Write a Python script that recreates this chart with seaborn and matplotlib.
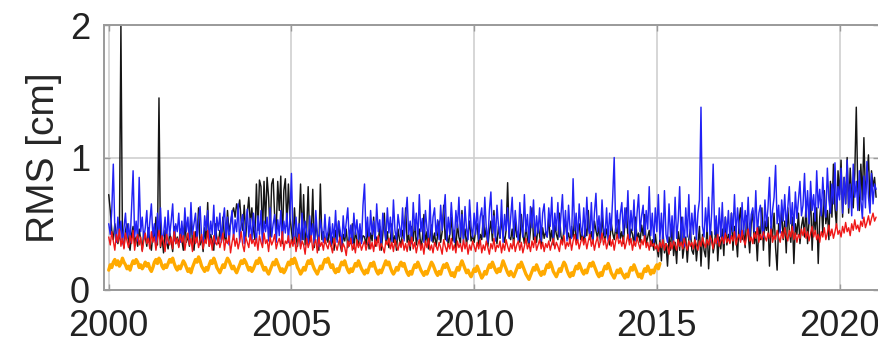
import numpy as np
import pandas as pd
import matplotlib
matplotlib.use("Agg")
import matplotlib.pyplot as plt
import seaborn as sns

# Semi-monthly RMS values [cm], one row per year starting January 2000
rms_black = [
    0.72, 0.60, 0.45, 0.38, 0.50, 0.42, 0.35, 0.40, 2.00, 0.38, 0.32, 0.45, 0.50, 0.36, 0.30, 0.42, 0.48, 0.35, 0.40, 0.33, 0.46, 0.38, 0.30, 0.44,
    0.40, 0.33, 0.47, 0.36, 0.30, 0.42, 0.38, 0.55, 0.34, 1.45, 0.32, 0.40, 0.28, 0.45, 0.36, 0.31, 0.43, 0.37, 0.29, 0.48, 0.35, 0.40, 0.33, 0.46,
    0.38, 0.30, 0.52, 0.36, 0.41, 0.33, 0.58, 0.35, 0.30, 0.44, 0.38, 0.62, 0.34, 0.40, 0.29, 0.47, 0.36, 0.66, 0.33, 0.42, 0.37, 0.30, 0.50, 0.39,
    0.35, 0.45, 0.38, 0.55, 0.40, 0.36, 0.60, 0.44, 0.50, 0.58, 0.62, 0.55, 0.65, 0.60, 0.68, 0.52, 0.45, 0.64, 0.40, 0.58, 0.70, 0.50, 0.62, 0.46,
    0.38, 0.80, 0.45, 0.83, 0.78, 0.42, 0.82, 0.50, 0.85, 0.70, 0.40, 0.80, 0.84, 0.55, 0.45, 0.82, 0.60, 0.86, 0.35, 0.75, 0.84, 0.48, 0.80, 0.55,
    0.45, 0.35, 0.62, 0.40, 0.33, 0.48, 0.80, 0.38, 0.72, 0.34, 0.45, 0.78, 0.36, 0.40, 0.76, 0.32, 0.50, 0.42, 0.30, 0.80, 0.38, 0.44, 0.35, 0.41,
    0.36, 0.48, 0.33, 0.40, 0.30, 0.45, 0.38, 0.52, 0.34, 0.29, 0.42, 0.37, 0.46, 0.32, 0.40, 0.35, 0.50, 0.31, 0.44, 0.38, 0.33, 0.47, 0.36, 0.41,
    0.40, 0.34, 0.47, 0.31, 0.43, 0.37, 0.55, 0.33, 0.40, 0.36, 0.48, 0.30, 0.42, 0.58, 0.35, 0.44, 0.32, 0.39, 0.50, 0.36, 0.41, 0.30, 0.46, 0.38,
    0.33, 0.45, 0.39, 0.62, 0.36, 0.42, 0.30, 0.48, 0.37, 0.53, 0.34, 0.41, 0.46, 0.32, 0.39, 0.57, 0.35, 0.44, 0.31, 0.40, 0.49, 0.36, 0.43, 0.33,
    0.41, 0.52, 0.36, 0.44, 0.64, 0.38, 0.47, 0.33, 0.42, 0.55, 0.37, 0.45, 0.31, 0.50, 0.40, 0.35, 0.60, 0.39, 0.46, 0.34, 0.43, 0.52, 0.37, 0.41,
    0.36, 0.45, 0.50, 0.34, 0.42, 0.38, 0.56, 0.40, 0.47, 0.33, 0.44, 0.52, 0.37, 0.60, 0.41, 0.35, 0.48, 0.39, 0.54, 0.42, 0.36, 0.45, 0.81, 0.40,
    0.38, 0.46, 0.34, 0.52, 0.40, 0.44, 0.36, 0.57, 0.42, 0.35, 0.48, 0.39, 0.33, 0.45, 0.62, 0.38, 0.43, 0.36, 0.50, 0.41, 0.34, 0.47, 0.39, 0.44,
    0.40, 0.55, 0.37, 0.45, 0.34, 0.49, 0.42, 0.38, 0.58, 0.41, 0.36, 0.46, 0.52, 0.39, 0.43, 0.35, 0.48, 0.40, 0.54, 0.37, 0.44, 0.50, 0.38, 0.42,
    0.36, 0.47, 0.41, 0.60, 0.38, 0.44, 0.35, 0.52, 0.45, 0.39, 0.48, 0.36, 0.56, 0.42, 0.37, 0.46, 0.40, 0.34, 0.51, 0.43, 0.38, 0.47, 0.41, 0.53,
    0.39, 0.44, 0.35, 0.50, 0.62, 0.40, 0.37, 0.46, 0.42, 0.34, 0.55, 0.38, 0.43, 0.36, 0.49, 0.41, 0.57, 0.35, 0.40, 0.45, 0.33, 0.38, 0.30, 0.42,
    0.32, 0.25, 0.38, 0.22, 0.45, 0.28, 0.35, 0.18, 0.40, 0.30, 0.52, 0.26, 0.36, 0.20, 0.44, 0.30, 0.55, 0.24, 0.33, 0.40, 0.21, 0.38, 0.46, 0.30,
    0.27, 0.40, 0.22, 0.35, 0.48, 0.18, 0.42, 0.30, 0.25, 0.50, 0.16, 0.38, 0.44, 0.28, 0.35, 0.52, 0.22, 0.40, 0.31, 0.46, 0.26, 0.55, 0.34, 0.42,
    0.36, 0.58, 0.30, 0.48, 0.40, 0.25, 0.52, 0.62, 0.38, 0.45, 0.32, 0.56, 0.42, 0.28, 0.50, 0.60, 0.35, 0.44, 0.22, 0.48, 0.38, 0.62, 0.30, 0.52,
    0.45, 0.55, 0.18, 0.48, 0.40, 0.58, 0.32, 0.15, 0.50, 0.44, 0.60, 0.38, 0.52, 0.28, 0.62, 0.45, 0.36, 0.55, 0.20, 0.50, 0.42, 0.58, 0.35, 0.48,
    0.55, 0.40, 0.65, 0.35, 0.52, 0.70, 0.30, 0.58, 0.45, 0.62, 0.20, 0.55, 0.68, 0.42, 0.75, 0.50, 0.60, 0.38, 0.82, 0.55, 0.95, 0.62, 0.48, 0.90,
    0.72, 0.98, 0.55, 0.85, 0.65, 1.00, 0.58, 0.92, 0.70, 0.62, 0.88, 1.38, 0.75, 0.60, 0.95, 0.68, 1.15, 0.72, 0.85, 1.02, 0.65, 0.90, 0.78, 0.85,
    0.70,
]

rms_blue = [
    0.50, 0.42, 0.60, 0.95, 0.45, 0.36, 0.55, 0.40, 0.52, 0.35, 0.47, 0.58, 0.39, 0.50, 0.36, 0.62, 0.90, 0.40, 0.52, 0.37, 0.85, 0.44, 0.55, 0.38,
    0.47, 0.60, 0.36, 0.52, 0.65, 0.40, 0.50, 0.34, 0.58, 0.44, 0.62, 0.38, 0.42, 0.55, 0.35, 0.60, 0.41, 0.52, 0.65, 0.37, 0.50, 0.44, 0.58, 0.36,
    0.52, 0.38, 0.62, 0.44, 0.55, 0.35, 0.66, 0.42, 0.50, 0.58, 0.36, 0.53, 0.63, 0.40, 0.34, 0.56, 0.45, 0.60, 0.37, 0.52, 0.42, 0.64, 0.35, 0.55,
    0.45, 0.58, 0.36, 0.52, 0.62, 0.40, 0.55, 0.34, 0.50, 0.60, 0.38, 0.53, 0.44, 0.65, 0.36, 0.51, 0.57, 0.35, 0.49, 0.61, 0.40, 0.54, 0.36, 0.58,
    0.46, 0.36, 0.56, 0.42, 0.60, 0.35, 0.52, 0.44, 0.55, 0.37, 0.62, 0.40, 0.50, 0.57, 0.36, 0.53, 0.41, 0.60, 0.38, 0.52, 0.43, 0.58, 0.36, 0.55,
    0.88, 0.42, 0.35, 0.55, 0.40, 0.50, 0.33, 0.58, 0.38, 0.52, 0.44, 0.34, 0.56, 0.40, 0.50, 0.35, 0.60, 0.42, 0.33, 0.53, 0.45, 0.36, 0.57, 0.38,
    0.44, 0.55, 0.34, 0.50, 0.38, 0.60, 0.36, 0.52, 0.45, 0.33, 0.56, 0.40, 0.51, 0.62, 0.37, 0.49, 0.35, 0.58, 0.42, 0.53, 0.38, 0.50, 0.35, 0.64,
    0.80, 0.40, 0.55, 0.35, 0.60, 0.42, 0.52, 0.36, 0.65, 0.44, 0.53, 0.34, 0.58, 0.46, 0.38, 0.62, 0.43, 0.55, 0.36, 0.68, 0.45, 0.38, 0.57, 0.48,
    0.40, 0.62, 0.37, 0.56, 0.70, 0.42, 0.52, 0.35, 0.66, 0.45, 0.58, 0.38, 0.72, 0.44, 0.54, 0.36, 0.60, 0.47, 0.39, 0.68, 0.37, 0.55, 0.62, 0.41,
    0.53, 0.38, 0.64, 0.45, 0.58, 0.72, 0.37, 0.55, 0.42, 0.66, 0.48, 0.36, 0.60, 0.47, 0.70, 0.40, 0.57, 0.35, 0.63, 0.46, 0.38, 0.68, 0.48, 0.40,
    0.58, 0.42, 0.66, 0.38, 0.55, 0.62, 0.40, 0.70, 0.46, 0.36, 0.60, 0.74, 0.43, 0.56, 0.37, 0.64, 0.48, 0.40, 0.68, 0.36, 0.57, 0.45, 0.62, 0.39,
    0.55, 0.70, 0.40, 0.60, 0.46, 0.37, 0.66, 0.48, 0.40, 0.72, 0.44, 0.57, 0.36, 0.63, 0.47, 0.68, 0.39, 0.56, 0.43, 0.62, 0.37, 0.58, 0.65, 0.44,
    0.40, 0.62, 0.48, 0.70, 0.38, 0.58, 0.45, 0.66, 0.40, 0.56, 0.72, 0.42, 0.60, 0.37, 0.64, 0.46, 0.39, 0.84, 0.45, 0.58, 0.37, 0.65, 0.48, 0.41,
    0.62, 0.40, 0.70, 0.47, 0.41, 0.66, 0.38, 0.58, 0.73, 0.44, 0.56, 0.39, 0.68, 0.47, 0.41, 0.62, 0.37, 0.58, 0.45, 0.70, 1.00, 0.44, 0.60, 0.39,
    0.57, 0.66, 0.42, 0.62, 0.47, 0.75, 0.39, 0.60, 0.45, 0.68, 0.37, 0.58, 0.72, 0.44, 0.56, 0.64, 0.38, 0.60, 0.46, 0.78, 0.41, 0.58, 0.36, 0.62,
    0.44, 0.72, 0.38, 0.58, 0.34, 0.75, 0.42, 0.36, 0.65, 0.40, 0.56, 0.35, 0.70, 0.39, 0.52, 0.78, 0.37, 0.55, 0.33, 0.62, 0.40, 0.72, 0.38, 0.58,
    0.42, 0.64, 0.38, 0.58, 0.68, 1.38, 0.48, 0.40, 0.62, 0.44, 0.70, 0.37, 0.58, 0.95, 0.42, 0.56, 0.36, 0.62, 0.40, 0.66, 0.35, 0.55, 0.42, 0.60,
    0.38, 0.58, 0.44, 0.72, 0.40, 0.62, 0.47, 0.37, 0.66, 0.42, 0.60, 0.46, 0.70, 0.40, 0.57, 0.62, 0.44, 0.75, 0.42, 0.58, 0.64, 0.47, 0.40, 0.68,
    0.48, 0.62, 0.85, 0.45, 0.60, 0.70, 0.94, 0.50, 0.64, 0.43, 0.68, 0.52, 0.72, 0.48, 0.62, 0.78, 0.50, 0.66, 0.45, 0.74, 0.54, 0.68, 0.82, 0.56,
    0.64, 0.88, 0.55, 0.75, 0.50, 0.82, 0.60, 0.72, 0.52, 0.90, 0.62, 0.76, 0.56, 0.85, 0.64, 0.55, 0.92, 0.68, 0.58, 0.80, 0.65, 0.96, 0.60, 0.78,
    0.68, 0.92, 0.58, 0.85, 0.65, 0.98, 0.62, 0.80, 0.56, 0.95, 0.70, 0.82, 0.60, 0.90, 0.68, 0.54, 0.86, 0.62, 0.97, 0.70, 0.58, 0.88, 0.65, 0.80,
    0.76,
]

rms_red = [
    0.40, 0.34, 0.44, 0.37, 0.30, 0.42, 0.36, 0.46, 0.33, 0.39, 0.31, 0.43, 0.37, 0.32, 0.41, 0.35, 0.45, 0.30, 0.38, 0.42, 0.34, 0.40, 0.29, 0.37,
    0.43, 0.35, 0.39, 0.31, 0.44, 0.36, 0.40, 0.30, 0.38, 0.45, 0.33, 0.41, 0.36, 0.29, 0.42, 0.37, 0.34, 0.40, 0.31, 0.44, 0.35, 0.39, 0.32, 0.42,
    0.36, 0.41, 0.30, 0.38, 0.43, 0.34, 0.39, 0.29, 0.44, 0.35, 0.40, 0.32, 0.37, 0.42, 0.31, 0.38, 0.35, 0.45, 0.33, 0.39, 0.30, 0.41, 0.36, 0.34,
    0.40, 0.32, 0.37, 0.43, 0.30, 0.38, 0.35, 0.41, 0.28, 0.36, 0.42, 0.33, 0.39, 0.31, 0.37, 0.44, 0.34, 0.29, 0.40, 0.36, 0.32, 0.42, 0.35, 0.38,
    0.33, 0.39, 0.30, 0.41, 0.36, 0.32, 0.43, 0.35, 0.38, 0.29, 0.40, 0.34, 0.37, 0.42, 0.31, 0.36, 0.39, 0.33, 0.44, 0.30, 0.37, 0.35, 0.41, 0.32,
    0.38, 0.33, 0.40, 0.29, 0.35, 0.42, 0.31, 0.37, 0.34, 0.27, 0.39, 0.32, 0.36, 0.41, 0.30, 0.35, 0.38, 0.28, 0.40, 0.33, 0.36, 0.30, 0.39, 0.34,
    0.31, 0.37, 0.33, 0.28, 0.39, 0.34, 0.30, 0.36, 0.40, 0.29, 0.35, 0.32, 0.26, 0.37, 0.33, 0.39, 0.30, 0.35, 0.28, 0.38, 0.32, 0.36, 0.30, 0.34,
    0.37, 0.30, 0.35, 0.40, 0.31, 0.36, 0.29, 0.38, 0.33, 0.41, 0.30, 0.35, 0.32, 0.28, 0.37, 0.34, 0.39, 0.31, 0.36, 0.29, 0.38, 0.33, 0.30, 0.36,
    0.32, 0.38, 0.30, 0.35, 0.29, 0.37, 0.33, 0.40, 0.31, 0.36, 0.28, 0.34, 0.38, 0.30, 0.35, 0.27, 0.37, 0.32, 0.39, 0.30, 0.34, 0.28, 0.36, 0.33,
    0.30, 0.36, 0.32, 0.27, 0.38, 0.33, 0.29, 0.35, 0.31, 0.39, 0.30, 0.34, 0.28, 0.37, 0.32, 0.35, 0.29, 0.38, 0.31, 0.36, 0.27, 0.34, 0.30, 0.37,
    0.33, 0.29, 0.36, 0.31, 0.38, 0.28, 0.34, 0.30, 0.37, 0.32, 0.27, 0.35, 0.31, 0.39, 0.29, 0.34, 0.32, 0.37, 0.28, 0.35, 0.30, 0.38, 0.33, 0.29,
    0.35, 0.31, 0.38, 0.29, 0.34, 0.37, 0.30, 0.36, 0.28, 0.33, 0.39, 0.31, 0.35, 0.29, 0.37, 0.32, 0.40, 0.30, 0.34, 0.38, 0.31, 0.36, 0.29, 0.35,
    0.32, 0.37, 0.30, 0.35, 0.39, 0.31, 0.36, 0.33, 0.29, 0.38, 0.34, 0.41, 0.31, 0.36, 0.33, 0.39, 0.30, 0.37, 0.42, 0.34, 0.38, 0.31, 0.36, 0.40,
    0.34, 0.39, 0.31, 0.37, 0.42, 0.33, 0.38, 0.30, 0.36, 0.40, 0.32, 0.37, 0.43, 0.34, 0.39, 0.31, 0.36, 0.41, 0.33, 0.38, 0.30, 0.37, 0.42, 0.35,
    0.38, 0.33, 0.40, 0.31, 0.36, 0.42, 0.34, 0.39, 0.30, 0.37, 0.33, 0.40, 0.35, 0.31, 0.38, 0.34, 0.41, 0.32, 0.36, 0.30, 0.37, 0.33, 0.35, 0.31,
    0.34, 0.29, 0.36, 0.32, 0.38, 0.30, 0.35, 0.33, 0.27, 0.36, 0.31, 0.37, 0.34, 0.30, 0.38, 0.33, 0.36, 0.31, 0.39, 0.34, 0.30, 0.37, 0.33, 0.36,
    0.31, 0.38, 0.34, 0.30, 0.37, 0.33, 0.40, 0.35, 0.32, 0.38, 0.34, 0.41, 0.36, 0.31, 0.39, 0.35, 0.42, 0.33, 0.37, 0.40, 0.35, 0.43, 0.36, 0.39,
    0.35, 0.41, 0.37, 0.44, 0.34, 0.39, 0.42, 0.36, 0.45, 0.38, 0.34, 0.41, 0.46, 0.37, 0.40, 0.35, 0.43, 0.39, 0.47, 0.36, 0.42, 0.38, 0.44, 0.40,
    0.37, 0.43, 0.39, 0.46, 0.36, 0.41, 0.38, 0.45, 0.40, 0.36, 0.44, 0.39, 0.47, 0.41, 0.37, 0.45, 0.40, 0.48, 0.38, 0.43, 0.36, 0.42, 0.39, 0.46,
    0.41, 0.47, 0.39, 0.44, 0.37, 0.43, 0.48, 0.40, 0.45, 0.38, 0.42, 0.36, 0.44, 0.40, 0.47, 0.38, 0.43, 0.49, 0.41, 0.46, 0.39, 0.44, 0.50, 0.42,
    0.45, 0.40, 0.48, 0.43, 0.51, 0.44, 0.47, 0.41, 0.50, 0.45, 0.53, 0.46, 0.49, 0.44, 0.52, 0.48, 0.55, 0.47, 0.51, 0.56, 0.49, 0.54, 0.58, 0.52,
    0.55,
]

rms_orange = [
    0.15, 0.19, 0.17, 0.21, 0.23, 0.19, 0.22, 0.18, 0.20, 0.24, 0.21, 0.19, 0.16, 0.18, 0.15, 0.19, 0.22, 0.20, 0.23, 0.21, 0.17, 0.19, 0.16, 0.18,
    0.21, 0.18, 0.20, 0.16, 0.14, 0.17, 0.21, 0.23, 0.20, 0.24, 0.22, 0.18, 0.16, 0.19, 0.17, 0.20, 0.23, 0.21, 0.24, 0.20, 0.17, 0.15, 0.18, 0.16,
    0.19, 0.22, 0.20, 0.17, 0.14, 0.16, 0.13, 0.17, 0.20, 0.23, 0.21, 0.25, 0.22, 0.18, 0.16, 0.14, 0.17, 0.15, 0.19, 0.22, 0.20, 0.24, 0.21, 0.17,
    0.15, 0.13, 0.16, 0.19, 0.17, 0.21, 0.24, 0.22, 0.19, 0.16, 0.18, 0.15, 0.13, 0.16, 0.19, 0.22, 0.20, 0.23, 0.21, 0.18, 0.15, 0.17, 0.14, 0.16,
    0.19, 0.22, 0.20, 0.24, 0.21, 0.18, 0.15, 0.17, 0.14, 0.12, 0.15, 0.18, 0.21, 0.19, 0.23, 0.20, 0.17, 0.14, 0.16, 0.13, 0.15, 0.18, 0.21, 0.19,
    0.23, 0.20, 0.24, 0.21, 0.17, 0.15, 0.12, 0.14, 0.17, 0.15, 0.19, 0.22, 0.20, 0.23, 0.19, 0.16, 0.14, 0.12, 0.15, 0.18, 0.16, 0.20, 0.23, 0.21,
    0.24, 0.20, 0.17, 0.19, 0.15, 0.13, 0.16, 0.14, 0.18, 0.21, 0.19, 0.22, 0.18, 0.15, 0.13, 0.16, 0.14, 0.17, 0.20, 0.18, 0.22, 0.19, 0.16, 0.14,
    0.12, 0.15, 0.13, 0.17, 0.20, 0.18, 0.21, 0.17, 0.14, 0.12, 0.15, 0.13, 0.16, 0.19, 0.22, 0.19, 0.21, 0.17, 0.14, 0.12, 0.14, 0.17, 0.15, 0.19,
    0.21, 0.18, 0.20, 0.16, 0.13, 0.11, 0.14, 0.12, 0.16, 0.19, 0.17, 0.21, 0.18, 0.15, 0.13, 0.11, 0.14, 0.12, 0.15, 0.18, 0.21, 0.19, 0.16, 0.13,
    0.11, 0.14, 0.12, 0.16, 0.19, 0.17, 0.20, 0.17, 0.14, 0.11, 0.13, 0.10, 0.14, 0.17, 0.15, 0.19, 0.22, 0.19, 0.16, 0.13, 0.15, 0.12, 0.10, 0.13,
    0.16, 0.14, 0.18, 0.15, 0.12, 0.09, 0.11, 0.14, 0.12, 0.16, 0.19, 0.17, 0.21, 0.18, 0.15, 0.13, 0.16, 0.14, 0.18, 0.22, 0.19, 0.16, 0.13, 0.11,
    0.14, 0.12, 0.10, 0.13, 0.16, 0.19, 0.17, 0.21, 0.18, 0.15, 0.12, 0.10, 0.08, 0.11, 0.14, 0.17, 0.15, 0.19, 0.16, 0.13, 0.11, 0.14, 0.12, 0.16,
    0.19, 0.17, 0.21, 0.18, 0.14, 0.12, 0.10, 0.13, 0.16, 0.14, 0.18, 0.21, 0.19, 0.15, 0.12, 0.10, 0.13, 0.11, 0.15, 0.18, 0.16, 0.20, 0.17, 0.14,
    0.12, 0.15, 0.13, 0.17, 0.20, 0.18, 0.21, 0.18, 0.15, 0.12, 0.10, 0.13, 0.11, 0.15, 0.18, 0.16, 0.20, 0.17, 0.13, 0.11, 0.09, 0.12, 0.15, 0.13,
    0.16, 0.13, 0.11, 0.09, 0.12, 0.10, 0.14, 0.17, 0.15, 0.19, 0.16, 0.13, 0.10, 0.12, 0.09, 0.13, 0.16, 0.14, 0.18, 0.15, 0.12, 0.15, 0.13, 0.17,
    0.19, 0.16, 0.20,
]

samples_per_year = 24
start_year = 2000
x_ticks = [2000, 2005, 2010, 2015, 2020]
y_ticks = [0, 1, 2]
y_label = "RMS [cm]"

# (values, colour, line width) in drawing order
series = [
    (rms_black, "#151515", 1.05),
    (rms_blue, "#2222f5", 1.05),
    (rms_red, "#f01818", 1.0),
    (rms_orange, "#ffaa00", 2.4),
]

sns.set_theme(style="white")
plt.rcParams["font.family"] = ["Liberation Sans", "DejaVu Sans"]

fig = plt.figure(figsize=(8.79, 3.48), dpi=100)
ax = fig.add_axes([0.1183, 0.1667, 0.8817, 0.7613])

for values, colour, lw in series:
    df = pd.DataFrame({
        "year": start_year + np.arange(len(values)) / samples_per_year,
        "rms": values,
    })
    sns.lineplot(data=df, x="year", y="rms", ax=ax, color=colour, linewidth=lw,
                 estimator=None, sort=False)

ax.set_xlim(1999.87, 2021.08)
ax.set_ylim(0, 2)
ax.set_xticks(x_ticks)
ax.set_xticklabels([str(t) for t in x_ticks])
ax.set_yticks(y_ticks)
ax.set_yticklabels([str(t) for t in y_ticks])
ax.set_xlabel("")
ax.set_ylabel(y_label, fontsize=28)
ax.yaxis.set_label_coords(-0.054, 0.5)

ax.grid(True, color="#cfcfcf", linewidth=1.2)
ax.set_axisbelow(True)
for spine in ax.spines.values():
    spine.set_color("#9a9a9a")
    spine.set_linewidth(1.4)

ax.tick_params(axis="both", direction="in", length=4, width=1, color="#9a9a9a",
               labelsize=26, labelcolor="#222222", top=True, right=True,
               bottom=True, left=True)
ax.tick_params(axis="x", pad=14)
ax.tick_params(axis="y", pad=10)

fig.savefig("out.png", dpi=100, facecolor="white")
